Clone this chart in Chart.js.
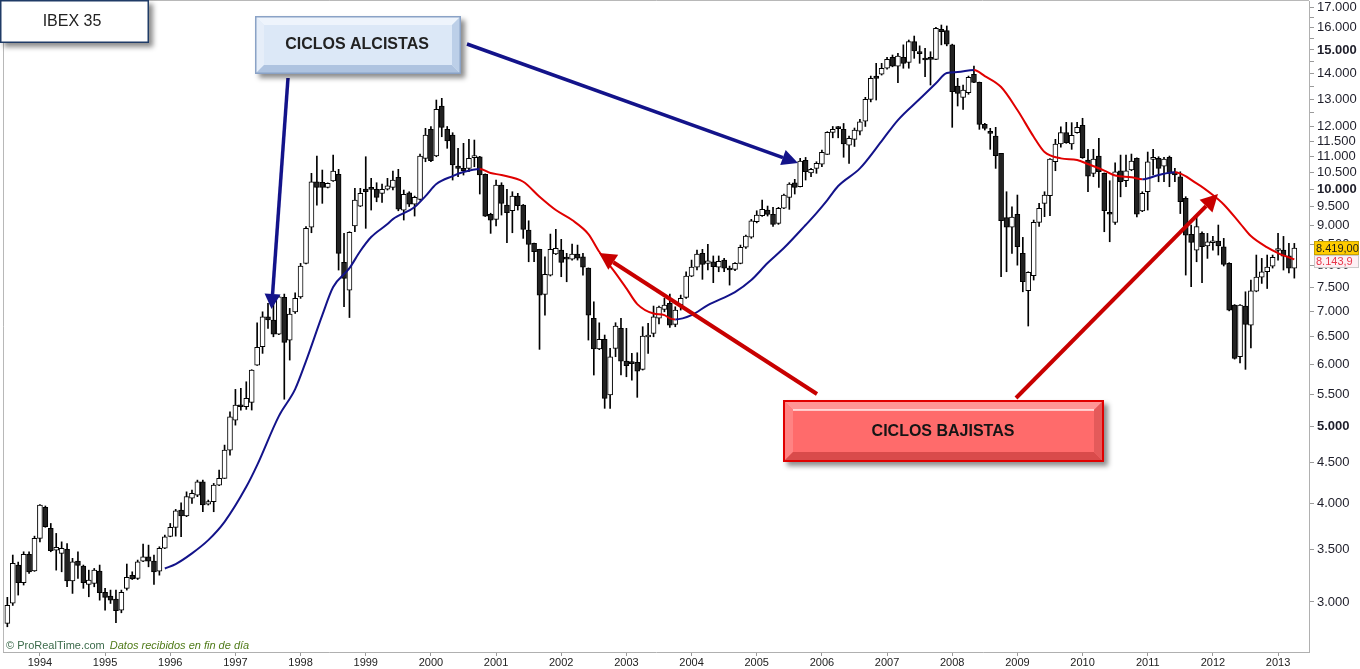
<!DOCTYPE html>
<html>
<head>
<meta charset="utf-8">
<script src="https://cdn.jsdelivr.net/npm/chart.js@4.4.1/dist/chart.umd.min.js"></script>
<style>
html,body{margin:0;padding:0;background:#fff;overflow:hidden}
#wrap{width:1360px;height:669px;position:relative}
</style>
</head>
<body>
<div id="wrap"><canvas id="c" width="1360" height="669"></canvas></div>
<script>
// ---- categories: monthly candles, Jul 1993 .. Apr 2013 ----
const months = [];
for (let y = 1993; y <= 2013; y++) {
  for (let m = 1; m <= 12; m++) {
    if ((y === 1993 && m < 7) || (y === 2013 && m > 4)) continue;
    months.push(y + '-' + String(m).padStart(2, '0'));
  }
}
const yearLabels = ['1994','1995','1996','1997','1998','1999','2000','2001','2002','2003','2004','2005','2006','2007','2008','2009','2010','2011','2012','2013'];

// ---- OHLC series (IBEX 35, monthly) ----
const open = [
2819,2990,3341,3173,3447,3285,3611,3953,3718,3490,
3457,3497,3191,3380,3331,3158,3168,3282,3086,3052,
3026,2930,3122,3242,3213,3380,3423,3380,3282,3510,
3632,3729,3922,3857,4060,4097,4259,3990,4020,4218,
4302,4671,5098,5320,5300,5369,5985,6314,6891,6825,
6551,7290,6438,6991,7300,8051,8944,10214,10196,10049,
10235,10437,8075,7448,8977,9515,10000,10010,9990,9875,
9995,10049,10346,9405,9892,9571,9703,10935,11900,11009,
12738,11900,11704,10692,10620,10620,10960,10987,10437,9288,
9154,10117,9543,9386,9797,9543,8872,8534,8387,7355,
7780,8273,8370,8160,8150,8273,8208,7940,6858,6272,
6451,5485,6284,6662,6055,6020,6032,5911,6495,6565,
6860,7040,7165,6740,7130,7290,7758,7965,8290,8051,
8089,7965,8129,7910,7912,8051,8440,8693,9090,9250,
9405,9288,9048,9454,9761,10185,10067,10871,10484,10620,
10755,11063,11797,11970,11900,11360,11558,11841,12191,12988,
13900,13975,14220,14681,14307,14681,14468,15366,14860,14580,
14637,14596,15928,15865,15224,13504,13064,13241,13975,13648,
12075,11780,11666,11094,9199,8944,9288,8290,7433,7765,
9075,9591,9806,10827,11402,11784,11402,11784,12040,10881,
10468,11009,10468,9300,9075,10547,10244,10569,10935,9378,
9921,10900,10935,10692,10965,10515,10365,9730,8763,8370,
8787,8473,8550,8592,8451,8051,7130,6133,7109,6726,
7427,7734,7857,7988,8360,8370,8230,7942];
const high = [
3041,3440,3370,3473,3473,3635,3985,3969,3772,3664,
3575,3558,3407,3473,3341,3292,3308,3341,3122,3106,
3106,3106,3351,3276,3390,3551,3541,3440,3524,3646,
3772,3930,4006,4136,4157,4280,4280,4038,4239,4407,
4740,5223,5576,5592,5701,5905,6772,6991,7165,7165,
7320,7362,7061,7390,8051,8960,10468,11009,10569,10180,
11040,10591,8787,8829,10020,10020,10987,10316,10185,10146,
10316,10538,10591,9970,9921,9796,11073,11935,12000,12962,
13026,12000,11784,11260,11425,11558,11535,11000,10450,9318,
10265,10185,9990,9921,9875,9560,9116,8540,8390,8208,
8769,8891,8635,8290,8517,8492,8290,7945,7198,6770,
6533,6284,6772,6858,6662,6193,6204,6693,6760,7109,
7109,7270,7362,7094,7340,7857,8129,8370,8387,8510,
8227,8227,8169,7988,8067,8492,8744,9154,9386,9683,
9515,9480,9480,9855,10185,10286,10935,10965,10622,10827,
11203,11820,12000,12000,12106,11666,11946,12252,13064,13900,
14426,14426,14681,14780,14854,15224,15440,15620,15180,15072,
14922,16022,16130,16085,15255,13808,13542,13900,14307,13660,
12110,11935,11970,11100,9921,9496,9826,8685,7857,9135,
9591,9921,10925,11558,11990,12146,12134,12146,12290,11226,
11226,11594,10480,10244,10796,11040,11040,11073,10950,9921,
11138,11226,10987,10965,11009,10620,10515,9778,9003,9269,
8829,8787,8710,9003,8660,8067,7140,7140,7411,7669,
8249,8169,8249,8249,8787,8710,8534,8534];
const low = [
2791,2970,3061,3152,3260,3280,3575,3730,3473,3292,
3276,3136,3076,3213,3122,3046,3136,3016,2930,2987,
2824,2907,3106,3203,3203,3373,3324,3158,3244,3505,
3628,3635,3628,3847,4000,4078,3903,3980,3903,4210,
4300,4604,5024,5249,5260,5250,5980,6193,6662,6500,
6540,5418,6073,6960,7270,8040,8803,9543,9591,10030,
10225,7896,7094,6875,8829,9500,8917,9405,9635,9616,
9970,9970,9385,9135,9502,9242,9683,10827,10827,10987,
11646,11260,10265,10365,10416,10515,10671,9855,9230,8787,
8977,9269,8550,8803,9405,8660,8089,8089,6266,6924,
7760,8260,7744,7631,8129,8129,7781,6438,5814,6260,
5276,5276,6133,5814,5785,5729,5448,5899,6193,6500,
6746,6991,6678,6693,7026,7270,7744,7896,7685,7896,
7610,7857,7857,7557,7880,8040,8410,8660,9060,9232,
9242,8965,9020,9440,9424,9855,10060,10265,10365,10468,
10671,11060,11610,11610,10970,10777,11320,11704,12000,12892,
12962,13940,14180,14280,13632,14220,14220,14637,14426,13874,
13542,14580,15224,15180,11970,12738,12615,13180,13630,11900,
11876,11226,10620,7744,7857,8290,8009,7411,6707,7669,
8965,9225,9252,10548,11300,11425,11226,11770,10935,9921,
10365,10049,8829,8575,9022,9775,10067,10547,9217,9360,
9405,10416,10214,10214,10067,10214,9309,7781,7523,8089,
7609,8169,8370,8249,7990,7010,6090,6025,5911,6290,
7411,7594,7482,7942,8129,7896,7830,7712];
const close = [
2972,3357,3173,3447,3276,3611,3980,3736,3483,3518,
3507,3191,3373,3338,3173,3198,3292,3082,3041,3016,
2924,3086,3223,3209,3373,3423,3380,3276,3507,3628,
3729,3914,3857,4080,4117,4259,3980,4020,4218,4302,
4671,5148,5327,5300,5432,5899,6303,6891,6825,6551,
7304,6395,6945,7270,7988,8917,10214,10049,10049,10167,
10538,8290,7707,8813,9683,9875,9921,9990,9761,9990,
10095,10265,9427,9846,9571,9761,11009,11704,10859,12615,
11970,11501,10724,10620,10547,10935,11009,10416,9242,9135,
10117,9591,9331,9797,9524,8891,8510,8329,7340,7798,
8387,8411,8075,8150,8273,8177,7965,6924,6272,6451,
5432,6133,6707,6055,5973,6010,5882,6513,6533,6891,
7088,7130,6726,7026,7270,7758,7965,8273,8028,8112,
7975,8100,7942,7896,8051,8436,8718,9116,9269,9424,
9288,9022,9454,9826,10146,10049,10849,10515,10591,10777,
11129,11797,11900,11923,11402,11594,11876,12167,12988,13808,
13808,14220,14596,14307,14736,14426,15366,14952,14840,14565,
14596,15975,15818,15255,13280,13217,13345,13848,13648,12075,
11935,11760,11019,9116,8944,9212,8451,7631,7843,9075,
9454,9826,10913,11402,11784,11445,11694,11970,10955,10385,
10913,10515,9386,9290,10515,10214,10547,10849,9296,9875,
10827,10915,10620,10915,10468,10416,9635,8744,8557,8960,
8451,8575,8560,8473,8028,7026,6104,7130,6740,7433,
7734,7857,7965,8192,8370,8224,7942,8419];

// ---- moving average (month index, value) ----
const maIdx = [29,31,34,37,40,44,46,50,53,55,58,60,63,65,67,70,71,75,77,79,82,84,87,89,91,95,98,101,104,107,109,112,114,116,119,121,122,123,126,129,134,137,140,143,147,149,151,153,157,161,164,168,171,173,175,178,180,183,186,189,191,194,197,199,202,204,207,209,212,215,219,222,224,227,229,232,234,237];
const maVal = [3308,3351,3457,3593,3790,4197,4471,5158,5580,6055,6924,7514,7941,8346,8693,9029,9160,9488,9796,10146,10385,10508,10600,10477,10416,10214,9778,9405,9135,8769,8329,7827,7485,7150,6955,6924,6858,6838,6924,7130,7405,7669,8058,8418,9003,9323,9683,10087,10620,11500,12227,13000,13609,14024,14064,14147,13900,13461,12589,11646,11138,10934,10881,10755,10553,10400,10349,10287,10416,10498,10166,9826,9560,9048,8718,8436,8297,8143.9];

// ---- axis ticks ----
const yTickVals = [3000,3500,4000,4500,5000,5500,6000,6500,7000,7500,8000,8500,9000,9500,10000,10500,11000,11500,12000,12500,13000,13500,14000,14500,15000,15500,16000,16500,17000];
const yLabelVals = [3000,3500,4000,4500,5000,5500,6000,6500,7000,7500,8000,8500,9000,9500,10000,10500,11000,11500,12000,13000,14000,15000,16000,17000];
const yBoldVals = [5000,10000,15000];

const yearIdx = yearLabels.map(y => months.indexOf(y + '-01'));

function fmtThousands(v, dec) {
  const s = Number(v).toFixed(dec || 0);
  const parts = s.split('.');
  const int = parts[0].replace(/\B(?=(\d{3})+(?!\d))/g, '.');
  return parts.length > 1 ? int + ',' + parts[1] : int;
}

const BLUE = '#13138a', RED = '#e00000';
const FONT = '"Liberation Sans", Arial, sans-serif';

const wickData = months.map((m, i) => ({x: i, y: [low[i], high[i]]}));
const bodyData = months.map((m, i) => ({x: i, y: [Math.min(open[i], close[i]), Math.max(open[i], close[i])]}));
const bodyColors = months.map((m, i) => close[i] >= open[i] ? '#ffffff' : '#222222');
const maData = maIdx.map((ix, k) => ({x: ix, y: maVal[k]}));

function arrow(ctx, x1, y1, x2, y2, color, w, hl, hw) {
  const a = Math.atan2(y2 - y1, x2 - x1);
  const bx = x2 - hl * Math.cos(a), by = y2 - hl * Math.sin(a);
  ctx.save();
  ctx.strokeStyle = color; ctx.lineWidth = w; ctx.lineCap = 'butt';
  ctx.beginPath(); ctx.moveTo(x1, y1); ctx.lineTo(bx, by); ctx.stroke();
  ctx.fillStyle = color;
  ctx.beginPath(); ctx.moveTo(x2, y2);
  ctx.lineTo(bx + hw * Math.sin(a), by - hw * Math.cos(a));
  ctx.lineTo(bx - hw * Math.sin(a), by + hw * Math.cos(a));
  ctx.closePath(); ctx.fill();
  ctx.restore();
}
function poly(ctx, pts, color) {
  ctx.fillStyle = color; ctx.beginPath(); ctx.moveTo(pts[0], pts[1]);
  for (let k = 2; k < pts.length; k += 2) ctx.lineTo(pts[k], pts[k + 1]);
  ctx.closePath(); ctx.fill();
}
function bevelBox(ctx, x, y, w, h, b, c) {
  ctx.save();
  ctx.shadowColor = 'rgba(0,0,0,0.45)'; ctx.shadowBlur = 5; ctx.shadowOffsetX = 4; ctx.shadowOffsetY = 4;
  ctx.fillStyle = c.face; ctx.fillRect(x, y, w, h);
  ctx.restore();
  poly(ctx, [x, y, x + w, y, x + w - b, y + b, x + b, y + b], c.top);
  poly(ctx, [x, y, x + b, y + b, x + b, y + h - b, x, y + h], c.left);
  poly(ctx, [x, y + h, x + b, y + h - b, x + w - b, y + h - b, x + w, y + h], c.bottom);
  poly(ctx, [x + w, y, x + w, y + h, x + w - b, y + h - b, x + w - b, y + b], c.right);
  ctx.fillStyle = c.face; ctx.fillRect(x + b, y + b, w - 2 * b, h - 2 * b);
  if (c.hi) { ctx.strokeStyle = c.hi; ctx.lineWidth = 1.5; ctx.beginPath(); ctx.moveTo(x + b, y + b); ctx.lineTo(x + w - b, y + b); ctx.stroke(); }
  ctx.strokeStyle = c.border; ctx.lineWidth = c.lw; ctx.strokeRect(x + c.lw / 2, y + c.lw / 2, w - c.lw, h - c.lw);
}

const deco = {
  id: 'deco',
  beforeDraw(chart) {
    const {ctx, chartArea: a} = chart;
    ctx.save();
    ctx.fillStyle = '#fff'; ctx.fillRect(0, 0, chart.width, chart.height);
    ctx.strokeStyle = '#b8b8b8'; ctx.lineWidth = 1;
    ctx.beginPath(); ctx.moveTo(3.5, a.bottom); ctx.lineTo(3.5, 0.5); ctx.lineTo(a.right, 0.5); ctx.stroke();
    ctx.restore();
  },
  afterDraw(chart) {
    const {ctx} = chart;
    const ys = chart.scales.y;
    ctx.save();
    // arrows
    arrow(ctx, 288, 78, 271.5, 309, BLUE, 3.5, 15, 8);
    arrow(ctx, 467, 44, 798, 163, BLUE, 3.5, 16, 8);
    arrow(ctx, 817, 394, 599, 253, '#c80000', 4, 17, 9);
    arrow(ctx, 1016, 398, 1218, 194, '#c80000', 4, 17, 9);

    // IBEX 35 box
    ctx.save();
    ctx.shadowColor = 'rgba(0,0,0,0.45)'; ctx.shadowBlur = 5; ctx.shadowOffsetX = 4; ctx.shadowOffsetY = 4;
    ctx.fillStyle = '#fff'; ctx.fillRect(0, 0, 149, 43);
    ctx.restore();
    ctx.strokeStyle = '#1f3b66'; ctx.lineWidth = 1.5; ctx.strokeRect(0.75, 0.75, 147.5, 41.5);
    ctx.fillStyle = '#222'; ctx.textAlign = 'center'; ctx.textBaseline = 'middle';
    ctx.font = '16px ' + FONT;
    ctx.fillText('IBEX 35', 72, 22);

    // CICLOS ALCISTAS
    bevelBox(ctx, 255, 16, 206, 58, 9, {face: '#dce8f7', top: '#eef4fc', left: '#e6eef9', bottom: '#aec3e0', right: '#bccfe8', border: '#8aa2c6', lw: 1.5});
    ctx.fillStyle = '#222'; ctx.font = 'bold 16px ' + FONT;
    ctx.fillText('CICLOS ALCISTAS', 357, 45);

    // CICLOS BAJISTAS
    bevelBox(ctx, 783, 400, 321, 62, 10, {face: '#ff6b6b', top: '#ff9696', left: '#ff8383', bottom: '#d94b4b', right: '#e45a5a', border: '#e00000', lw: 2, hi: 'rgba(255,255,255,0.85)'});
    ctx.fillStyle = '#151515'; ctx.font = 'bold 16px ' + FONT;
    ctx.fillText('CICLOS BAJISTAS', 943, 432);

    // price labels on the axis
    const last = close.length - 1;
    const py = ys.getPixelForValue(close[last]);
    ctx.fillStyle = '#ffcc00'; ctx.fillRect(1314, py - 7, 45, 14);
    ctx.strokeStyle = '#c8a200'; ctx.lineWidth = 1; ctx.strokeRect(1314.5, py - 6.5, 44, 13);
    ctx.fillStyle = '#1a1a1a'; ctx.font = '11px ' + FONT; ctx.textAlign = 'left';
    ctx.fillText(fmtThousands(close[last], 2), 1316, py + 0.5);
    const maLast = maVal[maVal.length - 1];
    const qy = py + 7;
    ctx.fillStyle = '#fdf0f4'; ctx.fillRect(1314, qy, 45, 13);
    ctx.strokeStyle = '#c9c9c9'; ctx.strokeRect(1314.5, qy + 0.5, 44, 12);
    ctx.fillStyle = '#e8364a';
    ctx.fillText(fmtThousands(maLast, 1), 1316, qy + 7);

    // copyright
    ctx.textAlign = 'left'; ctx.textBaseline = 'middle';
    ctx.font = '11px ' + FONT;
    ctx.fillStyle = '#3b6a4a';
    const t1 = '\u00A9 ProRealTime.com';
    ctx.fillText(t1, 6, 646);
    const w1 = ctx.measureText(t1).width;
    ctx.font = 'italic 11px ' + FONT;
    ctx.fillStyle = '#4f7a18';
    ctx.fillText('Datos recibidos en fin de d\u00EDa', 6 + w1 + 5, 646);
    ctx.restore();
  }
};

new Chart(document.getElementById('c'), {
  type: 'bar',
  data: {
    datasets: [
      {
        type: 'line', data: maData, order: 1,
        borderWidth: 2, pointRadius: 0, cubicInterpolationMode: 'monotone',
        borderColor: BLUE,
        segment: {borderColor: ctx => ctx.p1.parsed.y >= ctx.p0.parsed.y ? BLUE : RED}
      },
      {
        data: bodyData, order: 2, grouped: false,
        backgroundColor: bodyColors, borderColor: '#000', borderWidth: 1, borderSkipped: false,
        barThickness: 5, minBarLength: 2
      },
      {
        data: wickData, order: 3, grouped: false,
        backgroundColor: '#000', borderWidth: 0, barThickness: 1, minBarLength: 1
      }
    ]
  },
  options: {
    responsive: false, animation: false, devicePixelRatio: 1,
    layout: {padding: {left: 3, top: 1, right: 0, bottom: 0}},
    plugins: {legend: {display: false}, tooltip: {enabled: false}},
    scales: {
      x: {
        type: 'linear', min: -0.8, max: 239.7, offset: false,
        grid: {display: true, offset: false, drawOnChartArea: false, drawTicks: true, tickLength: 4, color: '#9a9a9a'},
        border: {display: true, color: '#b0b0b0'},
        ticks: {autoSkip: false, maxRotation: 0, padding: 0, color: '#222', font: {family: 'Liberation Sans', size: 11},
          callback: v => { const k = yearIdx.indexOf(v); return k >= 0 ? yearLabels[k] : ''; }},
        afterBuildTicks: s => { s.ticks = yearIdx.map(v => ({value: v})); },
        afterFit: s => { s.height = 17; s.paddingLeft = 0; s.paddingRight = 0; }
      },
      y: {
        type: 'logarithmic', position: 'right', min: 2593, max: 17300, beginAtZero: false,
        grid: {display: true, drawOnChartArea: false, drawTicks: true, tickLength: 5, color: '#9a9a9a'},
        border: {display: true, color: '#b0b0b0'},
        ticks: {autoSkip: false, padding: 3, color: '#1e1e2a',
          font: c => (c.tick && yBoldVals.includes(c.tick.value)) ? {family: 'Liberation Sans', size: 13, weight: 'bold'} : {family: 'Liberation Sans', size: 13},
          callback: v => yLabelVals.includes(v) ? fmtThousands(v) : ''},
        afterBuildTicks: s => { s.ticks = yTickVals.map(v => ({value: v})); },
        afterFit: s => { s.width = 51; s.paddingTop = 0; s.paddingBottom = 0; }
      }
    }
  },
  plugins: [deco]
});
</script>
</body>
</html>
